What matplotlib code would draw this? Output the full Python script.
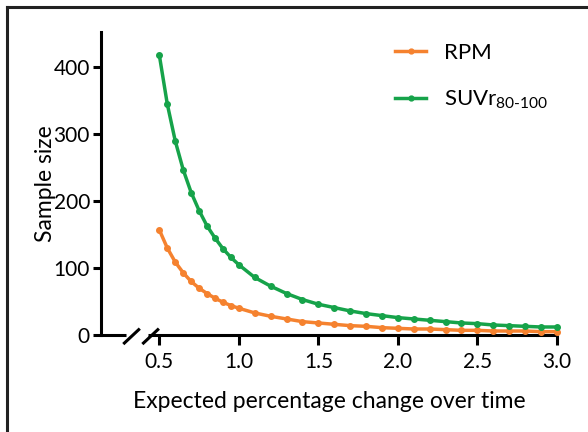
import matplotlib.pyplot as plt
from matplotlib.lines import Line2D

plt.rcParams['font.family'] = ['Lato', 'DejaVu Sans']
plt.rcParams['mathtext.fontset'] = 'custom'
plt.rcParams['mathtext.rm'] = 'Lato'

# expected % change (x) and sample sizes
change = [0.5, 0.55, 0.6, 0.65, 0.7, 0.75, 0.8, 0.85, 0.9, 0.95, 1.0,
          1.1, 1.2, 1.3, 1.4, 1.5, 1.6, 1.7, 1.8, 1.9, 2.0,
          2.1, 2.2, 2.3, 2.4, 2.5, 2.6, 2.7, 2.8, 2.9, 3.0]
rpm = [157, 130, 109, 93, 80, 70, 62, 55, 49, 44, 40,
       33, 28, 24, 20, 18, 16, 14, 13, 11, 10,
       9, 9, 8, 7, 7, 6, 6, 6, 5, 5]
suvr = [418, 345, 290, 247, 213, 186, 163, 145, 129, 116, 105,
        86, 73, 62, 53, 46, 41, 36, 32, 29, 26,
        24, 22, 20, 18, 17, 15, 14, 13, 12, 12]
xticks = [0.5, 1.0, 1.5, 2.0, 2.5, 3.0]
yticks = [0, 100, 200, 300, 400]

orange = '#f5822f'
green = '#16a34a'

fig = plt.figure(figsize=(5.88, 4.32), dpi=100)
ax = fig.add_axes([0.1718, 0.2245, 0.947 - 0.1718, 0.926 - 0.2245])

ax.plot(change, rpm, color=orange, lw=2.5, marker='o', ms=4, clip_on=False, zorder=3)
ax.plot(change, suvr, color=green, lw=2.5, marker='o', ms=4, clip_on=False, zorder=3)

xmin = 0.133
ax.set_xlim(xmin, 3.0)
ax.set_ylim(0, 453)

for s in ['top', 'right', 'bottom']:
    ax.spines[s].set_visible(False)
ax.spines['left'].set_linewidth(2.2)

# broken x axis drawn by hand
ax.plot([xmin, 0.29], [0, 0], color='black', lw=2.2, clip_on=False, solid_capstyle='butt')
ax.plot([0.43, 3.0], [0, 0], color='black', lw=2.2, clip_on=False, solid_capstyle='butt')
for x0 in [0.28, 0.40]:
    ax.plot([x0, x0 + 0.09], [-12, 8], color='black', lw=2.2, clip_on=False)

ax.set_xticks(xticks)
ax.set_xticklabels(['%.1f' % t for t in xticks])
ax.set_yticks(yticks)
ax.tick_params(axis='both', direction='out', width=2.2, length=6, labelsize=15, pad=2)
ax.tick_params(axis='x', length=7, pad=5)

ax.set_xlabel('Expected percentage change over time', fontsize=16.5, labelpad=14)
ax.set_ylabel('Sample size', fontsize=16.5, labelpad=-2)

handles = [Line2D([], [], color=orange, lw=2.5, marker='o', ms=3.5),
           Line2D([], [], color=green, lw=2.5, marker='o', ms=3.5)]
ax.legend(handles, ['RPM', r'SUVr$_{\mathregular{80\text{-}100}}$'],
          loc='upper right', bbox_to_anchor=(1.025, 1.03), frameon=False,
          fontsize=16, handlelength=1.4, handletextpad=0.8, labelspacing=1.15)

# figure frame (top and left edges only)
fig.add_artist(Line2D([0.0125, 0.0125], [0, 0.984], color='#222222', lw=2.2))
fig.add_artist(Line2D([0.0125, 1.0], [0.984, 0.984], color='#222222', lw=2.2))

fig.savefig('out.png', dpi=100)
